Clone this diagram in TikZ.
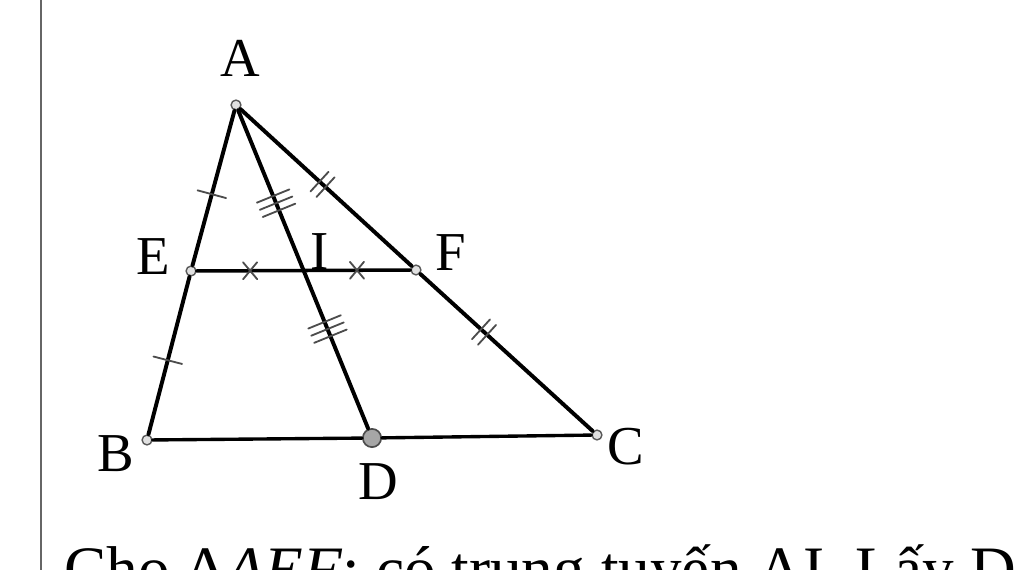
\documentclass[tikz,border=0pt]{standalone}
\usepackage{fontspec}
\setmainfont{Liberation Serif}
\usetikzlibrary{decorations.markings}
\tikzset{
  pt/.style={circle,draw=black!65,fill=black!12,line width=1pt,inner sep=0pt,minimum size=7pt},
  bigpt/.style={circle,draw=black!70,fill=black!35,line width=1.2pt,inner sep=0pt,minimum size=13pt},
  lbl/.style={inner sep=0pt,font=\fontsize{39}{47}\selectfont},
  seg/.style={line width=2.8pt,line cap=round},
  tickline/.style={black!70,line width=1.3pt},
  onetick/.style={postaction={decorate,decoration={markings,
    mark=at position #1 with {\draw[tickline] (0,-10.5pt) -- (0,10.5pt);}}}},
  twotick/.style={postaction={decorate,decoration={markings,
    mark=at position #1 with {\foreach \d in {-2.9pt,2.9pt} \draw[tickline] (\d,-9.5pt) -- (\d,9.5pt);}}}},
  threetick/.style={postaction={decorate,decoration={markings,
    mark=at position #1 with {\foreach \d in {-5.5pt,0pt,5.5pt} \draw[tickline] (\d,-12.5pt) -- (\d,12.5pt);}}}},
  crosstick/.style={postaction={decorate,decoration={markings,
    mark=at position #1 with {\draw[tickline] (-5pt,-6pt) -- (5pt,6pt) (-5pt,6pt) -- (5pt,-6pt);}}}}
}
\begin{document}
\begin{tikzpicture}[x=0.025cm,y=-0.025cm]
  \useasboundingbox (0,0) rectangle (1024,570);
  \clip (0,0) rectangle (1024,570);
  \draw[black!60,line width=1.4pt] (41,0) -- (41,570);
  \draw
    (236,105) node[pt] (A){}
    (147,440) node[pt] (B){}
    (597,435) node[pt] (C){}
    (372,438) node[bigpt] (D){}
    (191,271) node[pt] (E){}
    (416,270) node[pt] (F){};
  \coordinate (I) at (intersection of A--D and E--F);
  \begin{scope}[seg]
    \draw[onetick=0.54] (A) to (E);
    \draw[onetick=0.53] (E) to (B);
    \draw[twotick=0.48] (A) to (F);
    \draw[twotick=0.37] (F) to (C);
    \draw[threetick=0.58] (A) to (I);
    \draw[threetick=0.37] (I) to (D);
    \draw[crosstick=0.5,line width=2.5pt] (E) to (I);
    \draw[crosstick=0.5,line width=2.5pt] (I) to (F);
    \draw[line width=2.4pt] (B) to (D);
    \draw[line width=2.4pt] (D) to (C);
  \end{scope}
  \node[lbl] (lA) at (240,58) {A};
  \node[lbl] (lB) at (116,454) {B};
  \node[lbl] (lC) at (626,447) {C};
  \node[lbl] (lD) at (378,482) {D};
  \node[lbl] (lE) at (153,257) {E};
  \node[lbl] (lF) at (451,253) {F};
  \node[lbl] (lI) at (320,252) {I};
  \node[lbl,font=\fontsize{45}{54}\selectfont,anchor=base west] (txt) at (64,590) {Cho Δ\textit{AEF}: có trung tuyến AI. Lấy D};
\end{tikzpicture}
\end{document}
